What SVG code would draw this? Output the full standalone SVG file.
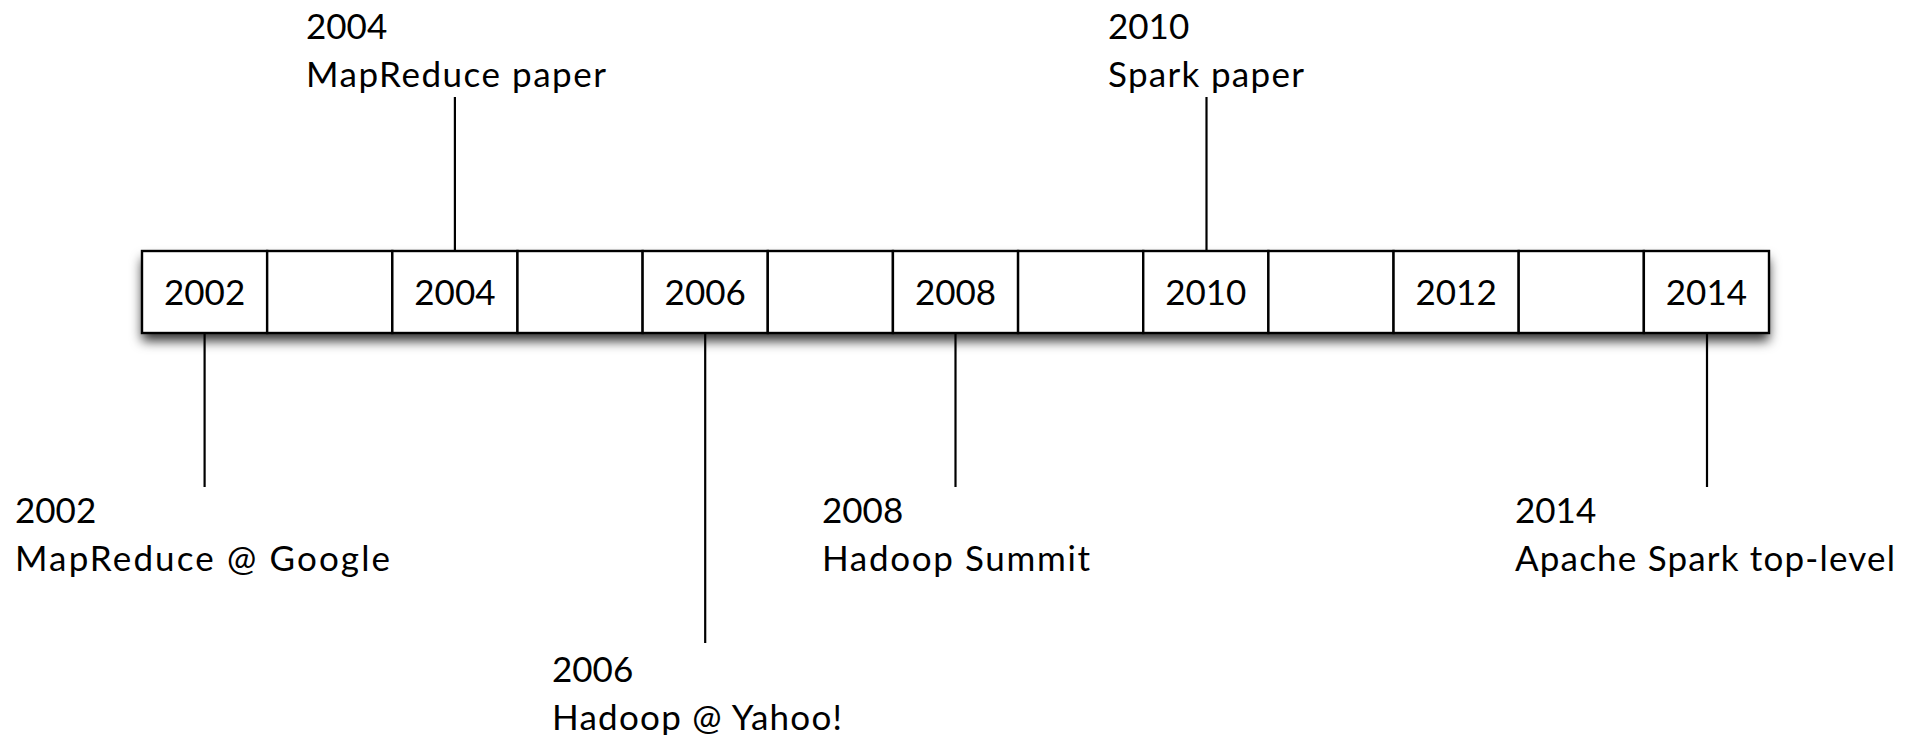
<svg xmlns="http://www.w3.org/2000/svg" width="1919" height="735" viewBox="0 0 1919 735">
  <style>
    .cell { fill: #ffffff; stroke: #000000; stroke-width: 2.4; }
    .year { font-family: Lato, "Liberation Sans", sans-serif; font-size: 35px; fill: #000000; text-anchor: middle; }
    .lbl { font-family: Lato, "Liberation Sans", sans-serif; font-size: 35px; fill: #000000; }
    .conn { stroke: #000000; stroke-width: 2.2; fill: none; }
  </style>
  <defs>
    <filter id="shadow" x="-5%" y="-40%" width="110%" height="200%">
      <feDropShadow dx="0" dy="8" stdDeviation="6" flood-color="#000000" flood-opacity="0.8"/>
    </filter>
  </defs>
  <rect x="142" y="251" width="1627" height="82" fill="#ffffff" filter="url(#shadow)"/>
  <g id="timeline">
    <g id="cell-2002"><rect class="cell" x="142" y="251" width="125.15" height="82"/><text class="year" x="204.6" y="305">2002</text></g>
    <g id="cell-2003"><rect class="cell" x="267.15" y="251" width="125.15" height="82"/></g>
    <g id="cell-2004"><rect class="cell" x="392.31" y="251" width="125.15" height="82"/><text class="year" x="454.9" y="305">2004</text></g>
    <g id="cell-2005"><rect class="cell" x="517.46" y="251" width="125.15" height="82"/></g>
    <g id="cell-2006"><rect class="cell" x="642.62" y="251" width="125.15" height="82"/><text class="year" x="705.2" y="305">2006</text></g>
    <g id="cell-2007"><rect class="cell" x="767.77" y="251" width="125.15" height="82"/></g>
    <g id="cell-2008"><rect class="cell" x="892.92" y="251" width="125.15" height="82"/><text class="year" x="955.5" y="305">2008</text></g>
    <g id="cell-2009"><rect class="cell" x="1018.08" y="251" width="125.15" height="82"/></g>
    <g id="cell-2010"><rect class="cell" x="1143.23" y="251" width="125.15" height="82"/><text class="year" x="1205.8" y="305">2010</text></g>
    <g id="cell-2011"><rect class="cell" x="1268.38" y="251" width="125.15" height="82"/></g>
    <g id="cell-2012"><rect class="cell" x="1393.54" y="251" width="125.15" height="82"/><text class="year" x="1456.1" y="305">2012</text></g>
    <g id="cell-2013"><rect class="cell" x="1518.69" y="251" width="125.15" height="82"/></g>
    <g id="cell-2014"><rect class="cell" x="1643.85" y="251" width="125.15" height="82"/><text class="year" x="1706.4" y="305">2014</text></g>
  </g>
  <g id="connectors">
    <line class="conn" x1="204.6" y1="333" x2="204.6" y2="487"/>
    <line class="conn" x1="454.9" y1="97" x2="454.9" y2="251"/>
    <line class="conn" x1="705.2" y1="333" x2="705.2" y2="643"/>
    <line class="conn" x1="955.5" y1="333" x2="955.5" y2="487"/>
    <line class="conn" x1="1206.5" y1="97" x2="1206.5" y2="251"/>
    <line class="conn" x1="1707" y1="333" x2="1707" y2="487"/>
  </g>
  <g id="label-2002"><text class="lbl" x="15" y="523">2002</text><text class="lbl" x="15" y="571" textLength="375" lengthAdjust="spacing">MapReduce @ Google</text></g>
  <g id="label-2004"><text class="lbl" x="306" y="39">2004</text><text class="lbl" x="306" y="87" textLength="300" lengthAdjust="spacing">MapReduce paper</text></g>
  <g id="label-2006"><text class="lbl" x="552" y="682">2006</text><text class="lbl" x="552" y="730" textLength="290" lengthAdjust="spacing">Hadoop @ Yahoo!</text></g>
  <g id="label-2008"><text class="lbl" x="822" y="523">2008</text><text class="lbl" x="822" y="571" textLength="268" lengthAdjust="spacing">Hadoop Summit</text></g>
  <g id="label-2010"><text class="lbl" x="1108" y="39">2010</text><text class="lbl" x="1108" y="87" textLength="196" lengthAdjust="spacing">Spark paper</text></g>
  <g id="label-2014"><text class="lbl" x="1515" y="523">2014</text><text class="lbl" x="1515" y="571" textLength="380" lengthAdjust="spacing">Apache Spark top-level</text></g>
</svg>
